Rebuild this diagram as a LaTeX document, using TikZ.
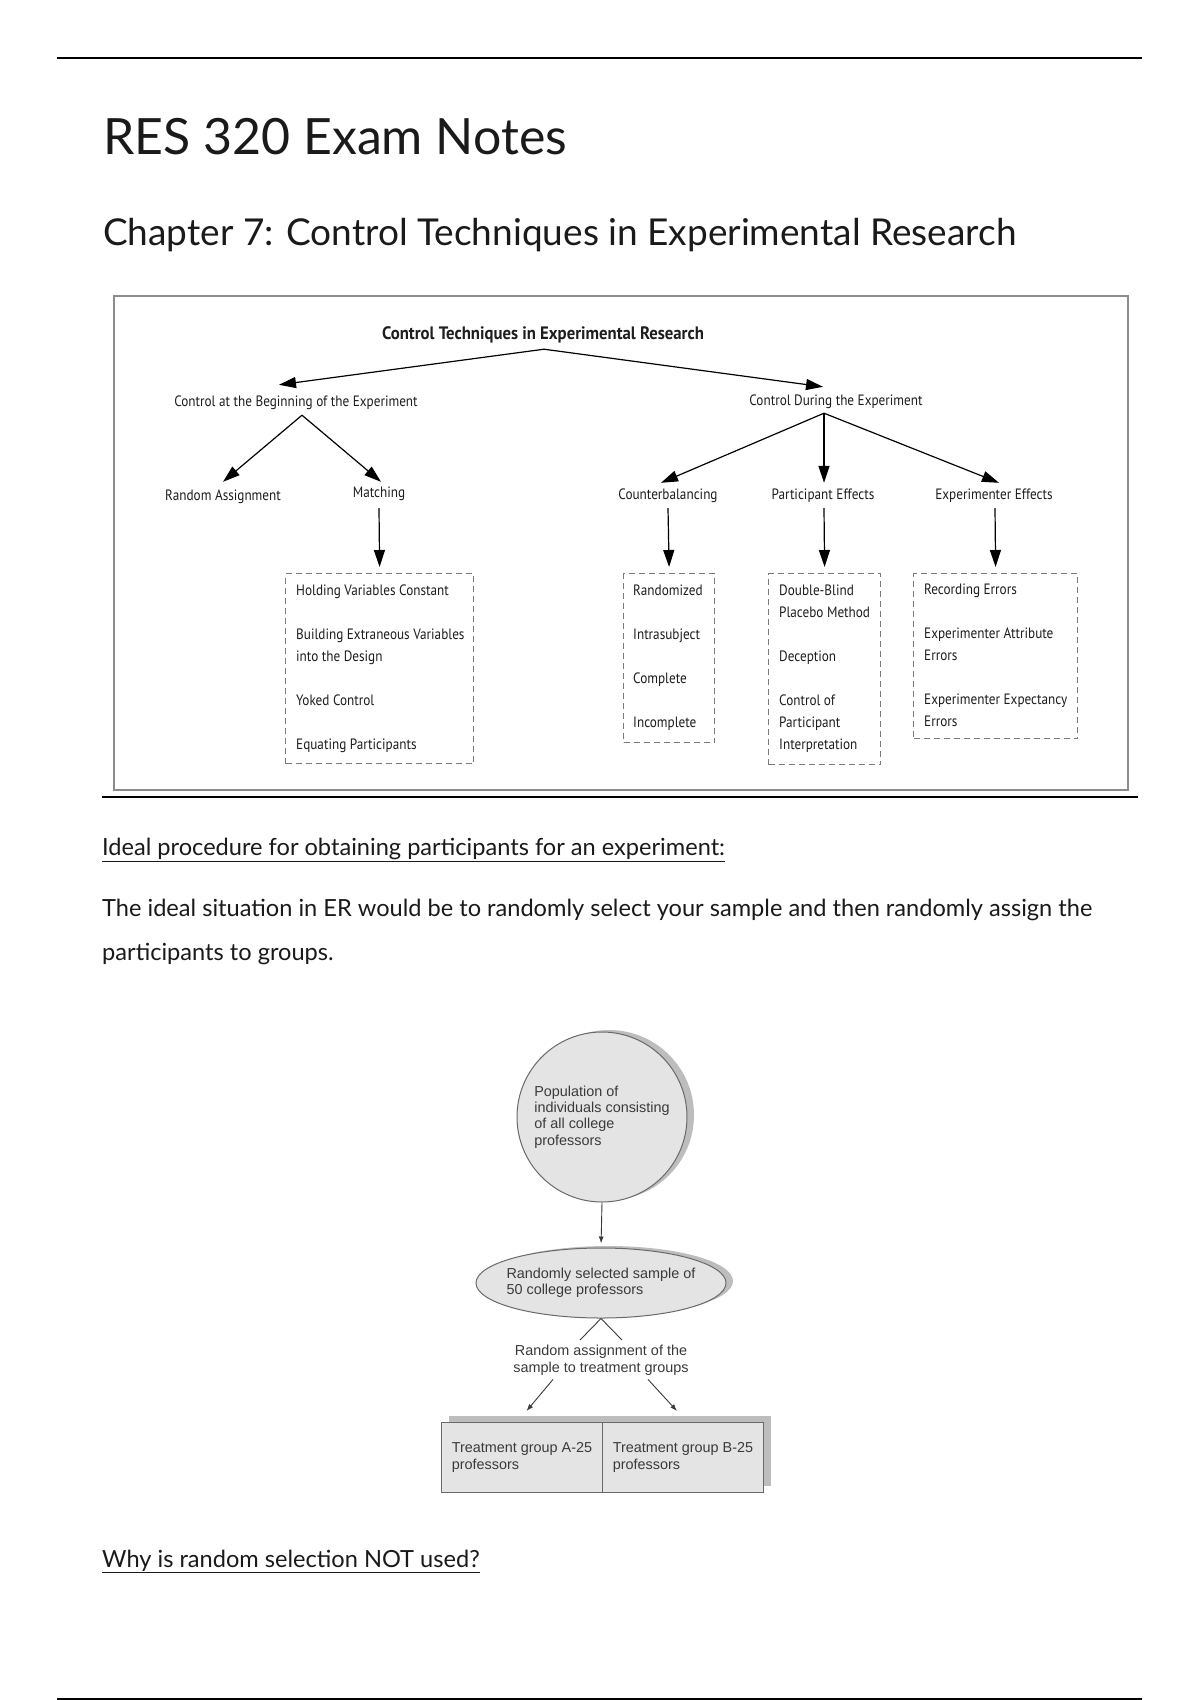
\documentclass[tikz,border=0pt]{standalone}
\usepackage{fontspec}
\setmainfont{Lato}
\newfontfamily\dgf[FakeStretch=0.88]{PT Sans}
\newfontfamily\dgfb[FakeStretch=0.93]{PT Sans Bold}
\newfontfamily\arf{Liberation Sans}
\usetikzlibrary{arrows.meta,shapes.geometric,calc,shadows}
\definecolor{shapefill}{HTML}{E4E4E4}
\definecolor{shapeline}{HTML}{6A6A6A}
\definecolor{shadowc}{HTML}{BDBDBD}
\definecolor{framec}{HTML}{8C8C8C}
\definecolor{dashc}{HTML}{7A7A7A}
\definecolor{dtext}{HTML}{1E1E1E}
\definecolor{ftext}{HTML}{3A3A3A}
\definecolor{bodyc}{HTML}{1A1A1A}
\tikzset{
 arr/.style={-{Triangle[length=17pt,width=11pt]}, line width=1.2pt, draw=black},
 dlab/.style={inner sep=0pt, text height=10pt, text depth=3pt, font=\dgf\fontsize{15}{17}\selectfont, text=dtext},
 dbox/.style={draw=dashc, line width=1.2pt, dash pattern=on 6pt off 4pt, anchor=north west, inner sep=0pt},
 dlist/.style={anchor=north west, align=left, inner sep=0pt, font=\dgf\fontsize{15}{22}\selectfont, text=dtext},
 body/.style={anchor=base west, inner sep=0pt, font=\fontsize{23.6}{28}\selectfont, text=bodyc},
 fshape/.style={draw=shapeline, fill=shapefill, line width=1pt, inner sep=0pt},
 ftxt/.style={inner sep=0pt, align=left, font=\arf\fontsize{14.4}{16.5}\selectfont, text=ftext},
 farr/.style={-{Latex[length=7pt,width=5pt]}, line width=0.9pt, draw=ftext},
 fline/.style={line width=0.9pt, draw=ftext},
}
\begin{document}
\begin{tikzpicture}[x=1pt,y=-1pt]
\useasboundingbox (0,0) rectangle (1200,1700);
\fill[white] (0,0) rectangle (1200,1700);

% page rules
\draw[line width=2.5pt] (57,58) -- (1142,58);
\draw[line width=2.5pt] (57,1699) -- (1142,1699);

% headings
\node[anchor=base west, inner sep=0pt, font=\fontsize{50}{60}\selectfont, text=bodyc] (title) at (103,154) {RES 320 Exam Notes};
\node[anchor=base west, inner sep=0pt, font=\fontsize{37}{44}\selectfont, text=bodyc] (chap) at (103,245) {Chapter 7: Control Techniques in Experimental Research};

% diagram frame
\draw[draw=framec, line width=1.5pt] (114,296) rectangle (1128,790);
\draw[line width=2.5pt] (102,797) -- (1138,797);

% diagram labels
\node[dlab, font=\dgfb\fontsize{18}{20}\selectfont, text height=12pt, text depth=4pt] (ttl) at (543,335) {Control Techniques in Experimental Research};
\node[dlab] (beg) at (296,403) {Control at the Beginning of the Experiment};
\node[dlab] (dur) at (836,402) {Control During the Experiment};
\node[dlab] (ra) at (223,497) {Random Assignment};
\node[dlab] (mat) at (379,494) {Matching};
\node[dlab] (cb) at (668,496) {Counterbalancing};
\node[dlab] (pe) at (823,496) {Participant Effects};
\node[dlab] (ee) at (994,496) {Experimenter Effects};

% dashed boxes
\node[dbox, minimum width=188pt, minimum height=190pt] (mbox) at (285,573) {};
\node[dbox, minimum width=91pt, minimum height=169pt] (cbox) at (623,573) {};
\node[dbox, minimum width=112pt, minimum height=191pt] (pbox) at (768,573) {};
\node[dbox, minimum width=164pt, minimum height=165pt] (ebox) at (913,573) {};

\node[dlist] (mtxt) at (296,585) {Holding Variables Constant\\[22pt]Building Extraneous Variables\\into the Design\\[22pt]Yoked Control\\[22pt]Equating Participants};
\node[dlist] (ctxt) at (633,585) {Randomized\\[22pt]Intrasubject\\[22pt]Complete\\[22pt]Incomplete};
\node[dlist] (ptxt) at (779,585) {Double-Blind\\Placebo Method\\[22pt]Deception\\[22pt]Control of\\Participant\\Interpretation};
\node[dlist] (etxt) at (924,584) {Recording Errors\\[22pt]Experimenter Attribute\\Errors\\[22pt]Experimenter Expectancy\\Errors};

% diagram arrows
\draw[arr] ($(ttl.south)+(1,6)$) -- ($(beg.north)+(-17,-11.5)$);
\draw[arr] ($(ttl.south)+(1,6)$) -- ($(dur.north)+(-13,-8.5)$);
\draw[arr] ($(beg.south)+(6,5.5)$) -- ($(ra.north)+(0,-8.5)$);
\draw[arr] ($(beg.south)+(6,5.5)$) -- ($(mat.north)+(2,-5.5)$);
\draw[arr] ($(dur.south)+(-12,4.5)$) -- ($(cb.north)+(-7,-6.5)$);
\draw[arr] ($(dur.south)+(-12,4.5)$) -- ($(pe.north)+(1,-6.5)$);
\draw[arr] ($(dur.south)+(-12,4.5)$) -- ($(ee.north)+(5,-6.5)$);
\draw[arr] ($(mat.south)+(0,7.5)$) -- ($(mbox.north)+(0,-6)$);
\draw[arr] ($(cb.south)+(0,5.5)$) -- ($(cbox.north)+(0,-6)$);
\draw[arr] ($(pe.south)+(1,5.5)$) -- ($(pbox.north)+(0,-6)$);
\draw[arr] ($(ee.south)+(1,5.5)$) -- ($(ebox.north)+(0,-6)$);

% body text
\node[body] (ideal) at (102,855) {\underline{Ideal procedure for obtaining participants for an experiment:}};
\node[body] (p1) at (102,916) {The ideal situation in ER would be to randomly select your sample and then randomly assign the};
\node[body] (p2) at (102,960) {participants to groups.};
\node[body] (why) at (102,1567) {\underline{Why is random selection NOT used?}};

% sampling figure
\node[fshape, circle, minimum size=170pt, align=left, font=\arf\fontsize{14.4}{16.3}\selectfont, text=ftext,
  drop shadow={shadow xshift=7pt, shadow yshift=2pt, fill=shadowc, opacity=1}] (pop) at (602,1117)
  {Population of\\individuals consisting\\of all college\\professors};
\node[fshape, ellipse, minimum width=250pt, minimum height=70pt,
  drop shadow={shadow xshift=7pt, shadow yshift=2pt, fill=shadowc, opacity=1}] (samp) at (601,1283) {};
\node[ftxt] (samptxt) at (samp.center) {Randomly selected sample of\\50 college professors};
\draw[farr, shorten >=4pt] (pop.south) -- (samp.north);

\coordinate (vL) at (580,1340);
\coordinate (vR) at (622,1340);
\draw[fline] (samp.south) -- (vL);
\draw[fline] (samp.south) -- (vR);

\node[ftxt, align=center, font=\arf\fontsize{14.4}{17}\selectfont] (rat) at (601,1360) {Random assignment of the\\sample to treatment groups};

\node[fshape, rectangle, anchor=north west, minimum width=161pt, minimum height=70pt, align=left, font=\arf\fontsize{14.4}{16.5}\selectfont, text=ftext,
  drop shadow={shadow xshift=7pt, shadow yshift=7pt, fill=shadowc, opacity=1}] (grpA) at (441,1422) {Treatment group A-25\\professors};
\node[fshape, rectangle, anchor=north west, minimum width=161pt, minimum height=70pt, align=left, font=\arf\fontsize{14.4}{16.5}\selectfont, text=ftext,
  drop shadow={shadow xshift=7pt, shadow yshift=7pt, fill=shadowc, opacity=1}] (grpB) at (602,1422) {Treatment group B-25\\professors};

\draw[farr] ($(rat.south)+(-48,4)$) -- ($(grpA.north)+(4.5,-11)$);
\draw[farr] ($(rat.south)+(47,4)$) -- ($(grpB.north)+(-6,-11)$);
\end{tikzpicture}
\end{document}
